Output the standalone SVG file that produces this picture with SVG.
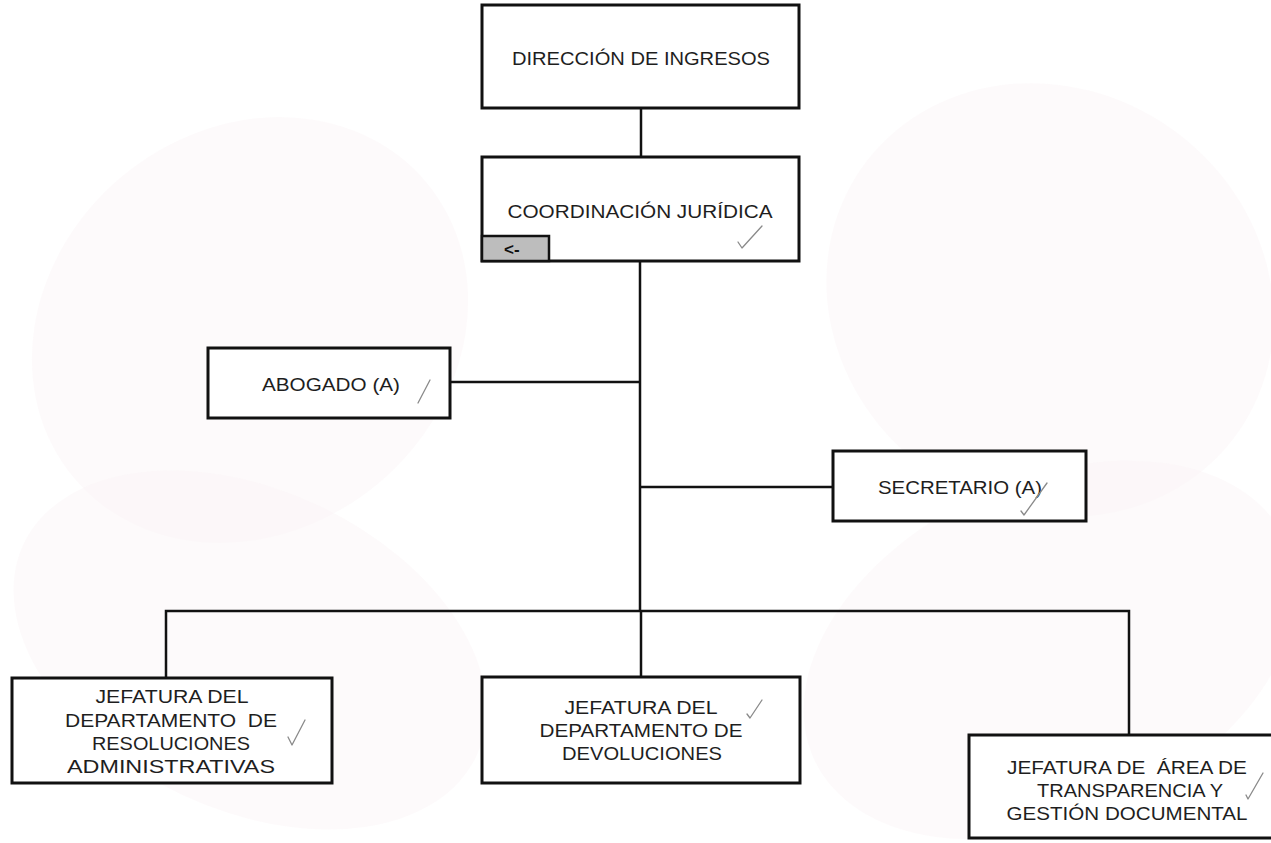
<svg xmlns="http://www.w3.org/2000/svg" width="1271" height="843" viewBox="0 0 1271 843">
<style>
.bg{fill:#fbf4f7;opacity:0.45}
.box{fill:#ffffff;stroke:#111111;stroke-width:3}
.ln{stroke:#111111;stroke-width:2.5;fill:none}
.t{font-family:"Liberation Sans",Arial,sans-serif;font-size:18px;fill:#1e1e1e;text-anchor:middle;white-space:pre}
.chk{stroke:#8a8a8a;stroke-width:1.3;fill:none;stroke-linecap:round;stroke-linejoin:round}
</style>
<rect width="1271" height="843" fill="#ffffff"/>
<g id="background">
<ellipse class="bg" cx="250" cy="330" rx="230" ry="200" transform="rotate(-40 250 330)"/>
<ellipse class="bg" cx="1050" cy="300" rx="230" ry="210" transform="rotate(35 1050 300)"/>
<ellipse class="bg" cx="250" cy="650" rx="250" ry="160" transform="rotate(25 250 650)"/>
<ellipse class="bg" cx="1050" cy="650" rx="260" ry="170" transform="rotate(-25 1050 650)"/>
</g>
<g id="connectors">
<line class="ln" x1="641" y1="108" x2="641" y2="157"/>
<line class="ln" x1="640" y1="261" x2="640" y2="611"/>
<line class="ln" x1="450" y1="382" x2="640" y2="382"/>
<line class="ln" x1="640" y1="487" x2="833" y2="487"/>
<polyline class="ln" points="166,678 166,611 1129,611 1129,735"/>
<line class="ln" x1="641" y1="611" x2="641" y2="677"/>
</g>
<g id="direccion">
<rect class="box" x="482" y="5" width="317" height="103"/>
<text class="t" x="641" y="65" textLength="258" lengthAdjust="spacingAndGlyphs">DIRECCIÓN DE INGRESOS</text>
</g>
<g id="coordinacion">
<rect class="box" x="482" y="157" width="317" height="104"/>
<text class="t" x="640" y="218" textLength="265" lengthAdjust="spacingAndGlyphs">COORDINACIÓN JURÍDICA</text>
<rect x="482" y="236" width="67" height="25" fill="#bdbdbd" stroke="#111111" stroke-width="2.5"/>
<text x="504" y="255" font-family="'Liberation Sans',sans-serif" font-size="17" font-weight="bold" fill="#111111">&lt;-</text>
<path class="chk" d="M738 242 L742 248 L762 226"/>
</g>
<g id="abogado">
<rect class="box" x="208" y="348" width="242" height="70"/>
<text class="t" x="331" y="391" textLength="138" lengthAdjust="spacingAndGlyphs">ABOGADO (A)</text>
<path class="chk" d="M418 403 L430 380"/>
</g>
<g id="secretario">
<rect class="box" x="833" y="451" width="253" height="70"/>
<text class="t" x="960" y="494" textLength="164" lengthAdjust="spacingAndGlyphs">SECRETARIO (A)</text>
<path class="chk" d="M1021 511 L1024 515 L1047 483"/>
</g>
<g id="resoluciones">
<rect class="box" x="12" y="678" width="320" height="105"/>
<text class="t" x="172" y="703" textLength="153" lengthAdjust="spacingAndGlyphs">JEFATURA DEL</text>
<text class="t" x="171" y="727" textLength="212" lengthAdjust="spacingAndGlyphs">DEPARTAMENTO  DE</text>
<text class="t" x="171" y="750" textLength="158" lengthAdjust="spacingAndGlyphs">RESOLUCIONES</text>
<text class="t" x="171" y="773" textLength="208" lengthAdjust="spacingAndGlyphs">ADMINISTRATIVAS</text>
<path class="chk" d="M288 737 L292 745 L305 720"/>
</g>
<g id="devoluciones">
<rect class="box" x="482" y="677" width="318" height="106"/>
<text class="t" x="641" y="714" textLength="153" lengthAdjust="spacingAndGlyphs">JEFATURA DEL</text>
<text class="t" x="641" y="737" textLength="203" lengthAdjust="spacingAndGlyphs">DEPARTAMENTO DE</text>
<text class="t" x="642" y="760" textLength="160" lengthAdjust="spacingAndGlyphs">DEVOLUCIONES</text>
<path class="chk" d="M747 714 L750 718 L762 700"/>
</g>
<g id="transparencia">
<rect class="box" x="969" y="735" width="320" height="103"/>
<text class="t" x="1127" y="774" textLength="240" lengthAdjust="spacingAndGlyphs">JEFATURA DE  ÁREA DE</text>
<text class="t" x="1130" y="797" textLength="186" lengthAdjust="spacingAndGlyphs">TRANSPARENCIA Y</text>
<text class="t" x="1127" y="820" textLength="241" lengthAdjust="spacingAndGlyphs">GESTIÓN DOCUMENTAL</text>
<path class="chk" d="M1246 795 L1248 799 L1263 773"/>
</g>
</svg>
